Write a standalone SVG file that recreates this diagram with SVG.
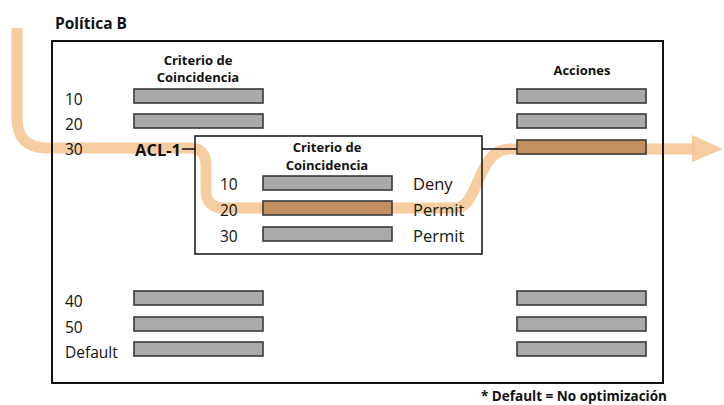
<svg xmlns="http://www.w3.org/2000/svg" width="724" height="405" viewBox="0 0 724 405">
<style>
.t{font-family:"Open Sans","Liberation Sans",sans-serif;fill:#111}
.b{font-weight:bold}
.n{font-size:15.5px}
.h{font-size:13px;font-weight:bold;text-anchor:middle}
.bar{fill:#aaaaaa;stroke:#3a3a3a;stroke-width:1.6}
.hl{fill:#c2905f;stroke:#3a3a3a;stroke-width:1.6}
.box{fill:none;stroke:#111}
.flow{fill:none;stroke:#f5c391;stroke-opacity:0.85;stroke-width:11;stroke-linejoin:round}
</style>
<rect width="724" height="405" fill="#fff"/>
<g id="flow-path">
<path class="flow" d="M17,28 V118 Q17,148 47,148 H190 Q206,148 206,166 V190 Q206,208 224,208 H455 C480,208 476,149 510,149 H695"/>
<polygon points="692,135 723,149 692,162" fill="#f5c391" fill-opacity="0.85"/>
</g>
<text class="t b" x="55" y="29" font-size="15.5">Política B</text>
<g id="policy-b">
<rect class="box" x="52" y="41" width="611" height="342" stroke-width="2"/>
</g>
<g id="match-criteria">
<text class="t h" x="198" y="65">Criterio de</text>
<text class="t h" x="198" y="82">Coincidencia</text>
<text class="t n" x="65" y="105">10</text>
<text class="t n" x="65" y="130">20</text>
<text class="t n" x="65" y="155">30</text>
<text class="t n" x="65" y="307">40</text>
<text class="t n" x="65" y="333">50</text>
<text class="t n" x="65" y="358">Default</text>
<rect class="bar" x="134" y="89" width="129" height="14"/>
<rect class="bar" x="134" y="114" width="129" height="14"/>
<rect class="bar" x="134" y="291" width="129" height="14"/>
<rect class="bar" x="134" y="317" width="129" height="14"/>
<rect class="bar" x="134" y="342" width="129" height="14"/>
<text class="t b" x="135" y="156" font-size="16.5">ACL-1</text>
</g>
<g id="acl-1">
<rect class="box" x="195" y="136" width="287" height="118" stroke-width="1.5"/>
<text class="t h" x="327" y="152">Criterio de</text>
<text class="t h" x="327" y="170">Coincidencia</text>
<text class="t n" x="220" y="190">10</text>
<text class="t n" x="220" y="216">20</text>
<text class="t n" x="220" y="242">30</text>
<rect class="bar" x="263" y="176" width="129" height="14"/>
<rect class="hl" x="263" y="201" width="129" height="14"/>
<rect class="bar" x="263" y="227" width="129" height="14"/>
<text class="t" x="413" y="190" font-size="16.5" style="fill:#2a0c0c">Deny</text>
<text class="t" x="413" y="216" font-size="16.5" style="fill:#0c220c">Permit</text>
<text class="t" x="413" y="242" font-size="16.5" style="fill:#0c220c">Permit</text>
</g>
<g id="actions">
<text class="t h" x="582" y="75">Acciones</text>
<rect class="bar" x="517" y="89" width="129" height="14"/>
<rect class="bar" x="517" y="114" width="129" height="14"/>
<rect class="hl" x="517" y="140" width="129" height="14"/>
<rect class="bar" x="517" y="291" width="129" height="14"/>
<rect class="bar" x="517" y="317" width="129" height="14"/>
<rect class="bar" x="517" y="342" width="129" height="14"/>
</g>
<g id="connectors">
<line x1="182" y1="149" x2="195" y2="149" stroke="#111" stroke-width="1.5"/>
<line x1="482" y1="149" x2="517" y2="149" stroke="#111" stroke-width="1.5"/>
</g>
<text class="t b" x="481" y="401" font-size="13.5">* Default = No optimización</text>
</svg>
